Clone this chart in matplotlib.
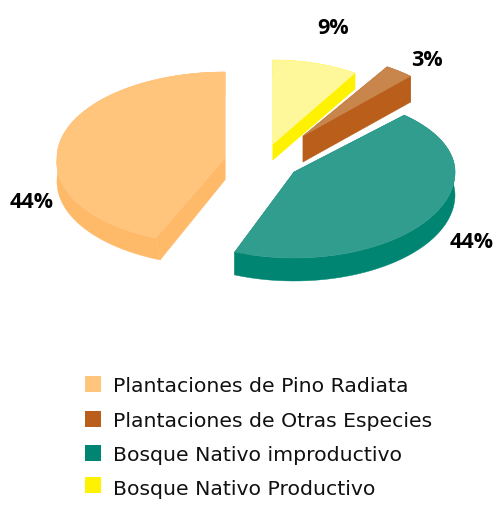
#!/usr/bin/env python3
"""
Exploded pseudo-3D pie of forest land use.
"""
import numpy as np
from matplotlib import pyplot as plt
from matplotlib.patches import Polygon, Rectangle

categories = ["Plantaciones de Pino Radiata", "Plantaciones de Otras Especies",
              "Bosque Nativo improductivo", "Bosque Nativo Productivo"]
values = [44, 3, 44, 9]
labels = ["44%", "3%", "44%", "9%"]

top_colors = ["#FFC57D", "#C8864C", "#319D8E", "#FFF89A"]
side_colors = ["#FFBA69", "#B95F1B", "#008573", "#FFF200"]
legend_colors = ["#FFC57D", "#B95F1B", "#008573", "#FFF200"]

# slices run counter-clockwise from 12 o'clock in this order
slice_order = [0, 2, 1, 3]

# apex x, apex y, radius x, radius y back, radius y front, front skew, depth (pixels)
geom = {0: (225, 158, 168, 86, 86, 8, 22),
        1: (303, 136, 157, 82, 82, 0, 26),
        2: (294, 172, 161, 78, 86, 0, 23),
        3: (273, 144, 153, 84, 84, 0, 16)}
label_pos = {0: (32, 202), 1: (427, 61), 2: (472, 242), 3: (333, 28)}
swatch_y = [384, 419, 453, 485]
baseline_y = [392, 427, 461, 495]


def face_points(idx, t0, t1, skew_scale=1.0):
    ax_, ay_, rx, ry_back, ry_front, skew, _ = geom[idx]
    t = np.radians(np.linspace(t0, t1, 200))
    s = np.sin(t)
    x = ax_ + rx * np.cos(t) + skew_scale * skew * np.minimum(s, 0)
    y = ay_ - np.where(s > 0, ry_back, ry_front) * s
    return ax_, ay_, x, y


def draw_wedge(ax, idx, t0, t1):
    depth = geom[idx][6]
    ax_, ay_, x, y = face_points(idx, t0, t1)
    _, _, xb, yb = face_points(idx, t0, t1, skew_scale=0.4)
    yb = yb + depth
    side = dict(fc=side_colors[idx], ec=side_colors[idx], lw=0.3, zorder=2)
    # outer rim and the two cut faces, then the top on them
    ax.add_patch(Polygon(np.column_stack([np.r_[x, xb[::-1]], np.r_[y, yb[::-1]]]), **side))
    for j in (0, -1):
        ax.add_patch(Polygon([(ax_, ay_), (x[j], y[j]), (xb[j], yb[j]), (ax_, ay_ + depth)], **side))
    ax.add_patch(Polygon(np.column_stack([np.r_[ax_, x], np.r_[ay_, y]]),
                         fc=top_colors[idx], ec=top_colors[idx], lw=0.3, zorder=3))


fig = plt.figure(figsize=(5.0, 5.08), dpi=100)
ax = fig.add_axes([0, 0, 1, 1])
ax.set_xlim(0, 500)
ax.set_ylim(508, 0)
ax.axis("off")

angle = 90.0
for i in slice_order:
    sweep = 360.0 * values[i] / sum(values)
    draw_wedge(ax, i, angle, angle + sweep)
    angle += sweep

for i, lab in enumerate(labels):
    ax.text(*label_pos[i], lab, fontsize=15.5, fontweight="bold", color="black",
            ha="center", va="center", zorder=5, family="Open Sans")

for i, cat in enumerate(categories):
    ax.add_patch(Rectangle((85, swatch_y[i] - 8), 16, 16, fc=legend_colors[i], ec="none"))
    ax.text(113, baseline_y[i], cat, fontsize=14.7, color="#111111", ha="left", va="baseline",
            family="DejaVu Sans")

plt.savefig("out.png", dpi=100)
